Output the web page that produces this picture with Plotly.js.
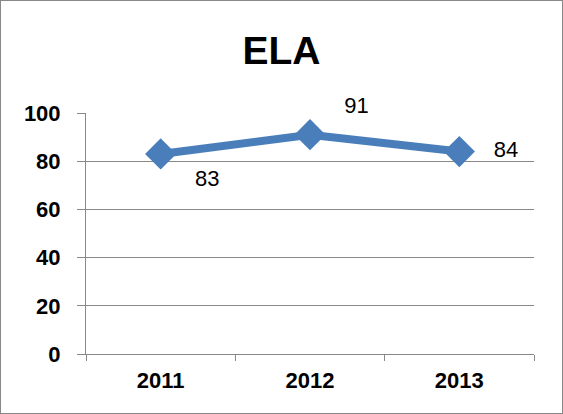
<!DOCTYPE html>
<html>
<head>
<meta charset="utf-8">
<script src="https://cdn.plot.ly/plotly-3.0.1.min.js"></script>
<style>
html,body{margin:0;padding:0;background:#fff;}
#wrap{position:absolute;left:0;top:0;width:561px;height:412px;border:1px solid #888;}
#chart{width:561px;height:412px;}
</style>
</head>
<body>
<div id="wrap"><div id="chart"></div></div>
<script>
const years = ['2011', '2012', '2013'];
const scores = [83, 91, 84];
const labelPositions = ['bottom right', 'top right', 'middle right'];
const yTicks = [0, 20, 40, 60, 80, 100];

const pad = '\u00a0\u00a0\u00a0';
const trace = {
  x: years,
  y: scores,
  type: 'scatter',
  mode: 'lines+markers+text',
  text: scores.map(v => pad + v),
  textposition: labelPositions,
  textfont: {family: 'Liberation Sans, Arial, sans-serif', size: 22, color: '#000'},
  line: {color: '#4A7EBB', width: 8},
  marker: {symbol: 'diamond', size: 24, color: '#4A7EBB'},
  cliponaxis: false,
  hoverinfo: 'skip'
};

const layout = {
  width: 561,
  height: 412,
  margin: {l: 85, r: 28, t: 112, b: 59},
  paper_bgcolor: '#fff',
  plot_bgcolor: '#fff',
  showlegend: false,
  title: {
    text: '<b>ELA</b>',
    font: {family: 'Liberation Sans, Arial, sans-serif', size: 39, color: '#000'},
    x: 0.5, xanchor: 'center',
    y: 0.88, yanchor: 'middle', yref: 'container'
  },
  xaxis: {
    type: 'category',
    range: [-0.5, 2.5],
    tickson: 'boundaries',
    ticks: 'outside',
    ticklen: 6,
    tickcolor: '#888',
    tickwidth: 1,
    ticklabelstandoff: 7,
    showline: true,
    linecolor: '#888',
    linewidth: 1,
    showgrid: false,
    tickfont: {family: 'Liberation Sans, Arial, sans-serif', size: 22, color: '#000', weight: 'bold'},
    fixedrange: true
  },
  yaxis: {
    range: [0, 100],
    tickvals: yTicks,
    ticktext: yTicks.map(v => '<b>' + v + '</b>'),
    ticks: 'outside',
    ticklen: 8,
    tickcolor: '#888',
    ticklabelstandoff: 12,
    showline: true,
    linecolor: '#888',
    linewidth: 1,
    showgrid: true,
    gridcolor: '#888',
    gridwidth: 1,
    zeroline: false,
    tickfont: {family: 'Liberation Sans, Arial, sans-serif', size: 22, color: '#000'},
    fixedrange: true
  }
};

Plotly.newPlot('chart', [trace], layout, {displayModeBar: false, staticPlot: true});
</script>
</body>
</html>
